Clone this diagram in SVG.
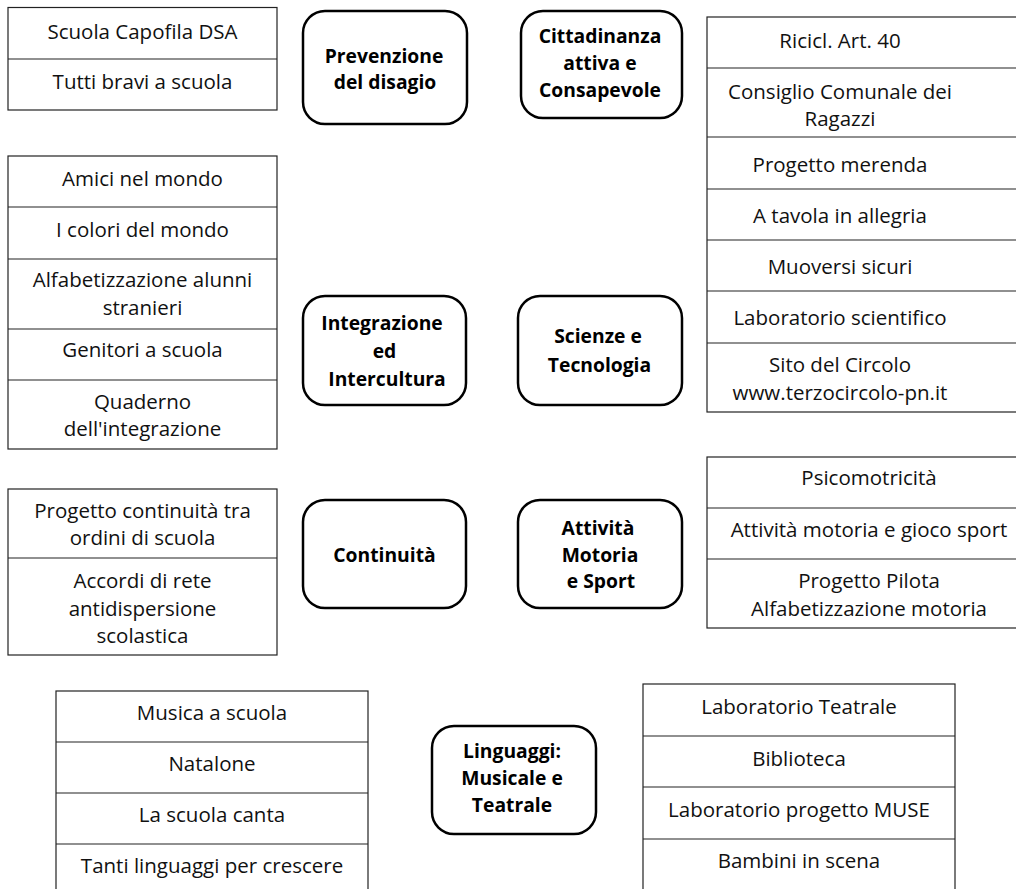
<svg xmlns="http://www.w3.org/2000/svg" width="1016" height="889" viewBox="0 0 1016 889">
<style>
.tb{fill:#fff;stroke:#222;stroke-width:1.2}
.dv{stroke:#222;stroke-width:1.2}
.cat{fill:#fff;stroke:#000;stroke-width:2.5}
.t{font-family:"Open Sans","Liberation Sans",sans-serif;font-size:20.5px;fill:#111;text-anchor:middle}
.b{font-family:"Open Sans","Liberation Sans",sans-serif;font-size:19.3px;font-weight:bold;fill:#000;text-anchor:middle}
</style>
<rect width="1016" height="889" fill="#fff"/>
<g id="connectors"></g>

<g id="list-prevenzione">
<rect class="tb" x="8" y="7.5" width="269" height="102.5"/>
<line class="dv" x1="8" y1="59" x2="277" y2="59"/>
<text class="t" x="142.5" y="39">Scuola Capofila DSA</text>
<text class="t" x="142.5" y="89">Tutti bravi a scuola</text>
</g>

<g id="cat-prevenzione">
<rect class="cat" x="303" y="11" width="164" height="113" rx="22"/>
<text class="b" x="384" y="63">Prevenzione</text>
<text class="b" x="385" y="89">del disagio</text>
</g>

<g id="cat-cittadinanza">
<rect class="cat" x="521" y="11" width="161" height="107" rx="22"/>
<text class="b" x="600" y="43">Cittadinanza</text>
<text class="b" x="600" y="70">attiva e</text>
<text class="b" x="600" y="97">Consapevole</text>
</g>

<g id="list-cittadinanza">
<rect class="tb" x="707" y="17" width="330" height="395"/>
<line class="dv" x1="707" y1="68" x2="1037" y2="68"/>
<line class="dv" x1="707" y1="137" x2="1037" y2="137"/>
<line class="dv" x1="707" y1="189" x2="1037" y2="189"/>
<line class="dv" x1="707" y1="240" x2="1037" y2="240"/>
<line class="dv" x1="707" y1="291" x2="1037" y2="291"/>
<line class="dv" x1="707" y1="343" x2="1037" y2="343"/>
<text class="t" x="840" y="48">Ricicl. Art. 40</text>
<text class="t" x="840" y="99">Consiglio Comunale dei</text>
<text class="t" x="840" y="126">Ragazzi</text>
<text class="t" x="840" y="172">Progetto merenda</text>
<text class="t" x="840" y="223">A tavola in allegria</text>
<text class="t" x="840" y="274">Muoversi sicuri</text>
<text class="t" x="840" y="325">Laboratorio scientifico</text>
<text class="t" x="840" y="372">Sito del Circolo</text>
<text class="t" x="840" y="400">www.terzocircolo-pn.it</text>
</g>

<g id="list-integrazione">
<rect class="tb" x="8" y="156" width="269" height="293"/>
<line class="dv" x1="8" y1="207" x2="277" y2="207"/>
<line class="dv" x1="8" y1="259" x2="277" y2="259"/>
<line class="dv" x1="8" y1="329" x2="277" y2="329"/>
<line class="dv" x1="8" y1="380" x2="277" y2="380"/>
<text class="t" x="142.5" y="186">Amici nel mondo</text>
<text class="t" x="142.5" y="237">I colori del mondo</text>
<text class="t" x="142.5" y="287">Alfabetizzazione alunni</text>
<text class="t" x="142.5" y="315">stranieri</text>
<text class="t" x="142.5" y="357">Genitori a scuola</text>
<text class="t" x="142.5" y="409">Quaderno</text>
<text class="t" x="142.5" y="436">dell'integrazione</text>
</g>

<g id="cat-integrazione">
<rect class="cat" x="303" y="296" width="163" height="109" rx="22"/>
<text class="b" x="382" y="330">Integrazione</text>
<text class="b" x="384.5" y="358">ed</text>
<text class="b" x="387" y="386">Intercultura</text>
</g>

<g id="cat-scienze">
<rect class="cat" x="518" y="296" width="164" height="109" rx="22"/>
<text class="b" x="598" y="343">Scienze e</text>
<text class="b" x="599.5" y="372">Tecnologia</text>
</g>

<g id="list-continuita">
<rect class="tb" x="8" y="489" width="269" height="166"/>
<line class="dv" x1="8" y1="558" x2="277" y2="558"/>
<text class="t" x="142.5" y="518">Progetto continuità tra</text>
<text class="t" x="142.5" y="545">ordini di scuola</text>
<text class="t" x="142.5" y="588">Accordi di rete</text>
<text class="t" x="142.5" y="616">antidispersione</text>
<text class="t" x="142.5" y="643">scolastica</text>
</g>

<g id="cat-continuita">
<rect class="cat" x="303" y="500" width="163" height="108" rx="22"/>
<text class="b" x="384.5" y="562">Continuità</text>
</g>

<g id="cat-motoria">
<rect class="cat" x="518" y="500" width="164" height="108" rx="22"/>
<text class="b" x="598" y="535">Attività</text>
<text class="b" x="600" y="562">Motoria</text>
<text class="b" x="601" y="588">e Sport</text>
</g>

<g id="list-motoria">
<rect class="tb" x="707" y="457" width="330" height="171"/>
<line class="dv" x1="707" y1="508" x2="1037" y2="508"/>
<line class="dv" x1="707" y1="559" x2="1037" y2="559"/>
<text class="t" x="869" y="485">Psicomotricità</text>
<text class="t" x="869" y="537">Attività motoria e gioco sport</text>
<text class="t" x="869" y="588">Progetto Pilota</text>
<text class="t" x="869" y="616">Alfabetizzazione motoria</text>
</g>

<g id="list-musicale">
<rect class="tb" x="56" y="691" width="312" height="220"/>
<line class="dv" x1="56" y1="742" x2="368" y2="742"/>
<line class="dv" x1="56" y1="793" x2="368" y2="793"/>
<line class="dv" x1="56" y1="844" x2="368" y2="844"/>
<text class="t" x="212" y="720">Musica a scuola</text>
<text class="t" x="212" y="771">Natalone</text>
<text class="t" x="212" y="822">La scuola canta</text>
<text class="t" x="212" y="873">Tanti linguaggi per crescere</text>
</g>

<g id="cat-linguaggi">
<rect class="cat" x="432" y="726" width="164" height="108" rx="22"/>
<text class="b" x="512" y="758">Linguaggi:</text>
<text class="b" x="512" y="785">Musicale e</text>
<text class="b" x="512" y="812">Teatrale</text>
</g>

<g id="list-teatrale">
<rect class="tb" x="643" y="684" width="312" height="230"/>
<line class="dv" x1="643" y1="736" x2="955" y2="736"/>
<line class="dv" x1="643" y1="787" x2="955" y2="787"/>
<line class="dv" x1="643" y1="839" x2="955" y2="839"/>
<text class="t" x="799" y="714">Laboratorio Teatrale</text>
<text class="t" x="799" y="766">Biblioteca</text>
<text class="t" x="799" y="817">Laboratorio progetto MUSE</text>
<text class="t" x="799" y="868">Bambini in scena</text>
</g>
</svg>
